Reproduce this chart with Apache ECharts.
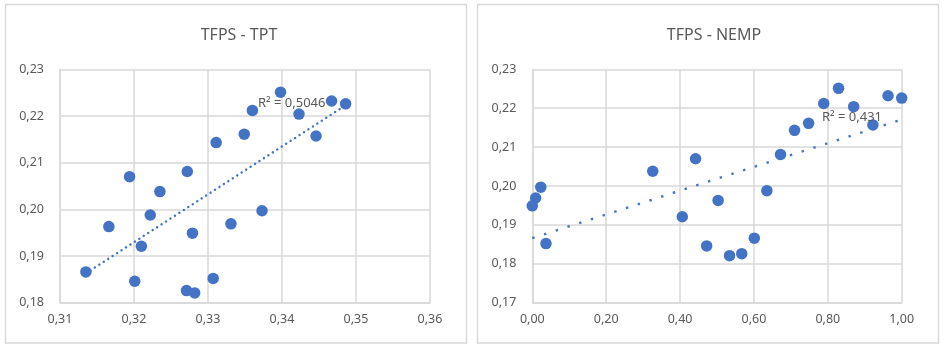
<!DOCTYPE html>
<html>
<head>
<meta charset="utf-8">
<script src="https://cdn.jsdelivr.net/npm/echarts@6/dist/echarts.min.js"></script>
<style>
html,body{margin:0;padding:0;background:#fff;}
#chart{width:947px;height:350px;}
</style>
</head>
<body>
<div id="chart"></div>
<script>
// TFPS values (y) shared by both charts
var tfps = [0.1866,0.1963,0.2070,0.1846,0.1921,0.1988,0.2038,0.2081,0.1826,0.1821,0.1949,0.2143,0.1852,0.1969,0.2161,0.2212,0.1997,0.2251,0.2204,0.2157,0.2232,0.2226];
// TPT values (x, left chart)
var tpt = [0.3135,0.3166,0.3194,0.3201,0.3210,0.3222,0.3235,0.3272,0.3271,0.3282,0.3279,0.3311,0.3307,0.3331,0.3349,0.3360,0.3373,0.3398,0.3423,0.3446,0.3467,0.3486];
// NEMP values (x, right chart)
var nemp = [0.601,0.503,0.442,0.472,0.406,0.635,0.326,0.672,0.567,0.534,0.000,0.710,0.037,0.009,0.748,0.789,0.023,0.829,0.870,0.922,0.963,1.000];
// Trendline endpoints
var trendTPT = [[0.3135,0.1863],[0.3486,0.2223]];
var trendNEMP = [[0.0,0.1866],[1.0,0.2171]];
var titles = ['TFPS - TPT','TFPS - NEMP'];
var r2Labels = ['R\u00b2 = 0,5046','R\u00b2 = 0,431'];

var textColor = '#595959';
var gridColor = '#d9d9d9';
var blue = '#4472C4';
var fontFam = '"Noto Sans", sans-serif';

function pairs(xs, ys){ return xs.map(function(x,i){return [x, ys[i]];}); }
function fmt(v){ return v.toFixed(2).replace('.', ','); }

function xAxis(idx, min, max, interval){
  return {type:'value', gridIndex:idx, min:min, max:max, interval:interval,
    axisLine:{show:true, lineStyle:{color:gridColor, width:1.5}},
    axisTick:{show:false},
    splitLine:{show:true, lineStyle:{color:gridColor, width:1.5}},
    axisLabel:{color:textColor, fontSize:12.5, fontFamily:fontFam, margin:10, formatter:fmt}};
}
function yAxis(idx, min, max, interval){
  return {type:'value', gridIndex:idx, min:min, max:max, interval:interval,
    axisLine:{show:true, lineStyle:{color:gridColor, width:1.5}},
    axisTick:{show:false},
    splitLine:{show:true, lineStyle:{color:gridColor, width:1.5}},
    axisLabel:{color:textColor, fontSize:12.5, fontFamily:fontFam, margin:16, formatter:fmt}};
}

var chart = echarts.init(document.getElementById('chart'), null, {renderer:'canvas'});
chart.setOption({
  animation:false,
  backgroundColor:'#fff',
  title:[
    {text:titles[0], left:234, top:22, textAlign:'center', textStyle:{color:textColor, fontSize:16, fontWeight:'normal', fontFamily:fontFam}},
    {text:titles[1], left:709, top:22, textAlign:'center', textStyle:{color:textColor, fontSize:16, fontWeight:'normal', fontFamily:fontFam}}
  ],
  grid:[
    {left:60, top:69.3, width:370, height:233.4},
    {left:532.3, top:69.3, width:369.4, height:233.4}
  ],
  xAxis:[ xAxis(0, 0.31, 0.36, 0.01), xAxis(1, 0, 1, 0.2) ],
  yAxis:[ yAxis(0, 0.18, 0.23, 0.01), yAxis(1, 0.17, 0.23, 0.01) ],
  graphic:[
    {type:'rect', shape:{x:5.5, y:4.5, width:461, height:338.5}, style:{fill:'none', stroke:gridColor, lineWidth:1.5}, silent:true},
    {type:'rect', shape:{x:477.5, y:4.5, width:461, height:338.5}, style:{fill:'none', stroke:gridColor, lineWidth:1.5}, silent:true},
    {type:'text', x:258, y:97, z:10, style:{text:r2Labels[0], fill:textColor, fontSize:13, fontFamily:fontFam}},
    {type:'text', x:822, y:111, z:10, style:{text:r2Labels[1], fill:textColor, fontSize:13, fontFamily:fontFam}}
  ],
  series:[
    {type:'scatter', xAxisIndex:0, yAxisIndex:0, data:pairs(tpt, tfps), symbolSize:11.5, itemStyle:{color:blue, opacity:1}, z:3},
    {type:'line', xAxisIndex:0, yAxisIndex:0, data:trendTPT, showSymbol:false, symbol:'none', z:2,
      lineStyle:{color:blue, width:2.4, type:[0.1,5.2], cap:'round'}},
    {type:'scatter', xAxisIndex:1, yAxisIndex:1, data:pairs(nemp, tfps), symbolSize:11.5, itemStyle:{color:blue, opacity:1}, z:3},
    {type:'line', xAxisIndex:1, yAxisIndex:1, data:trendNEMP, showSymbol:false, symbol:'none', z:2,
      lineStyle:{color:blue, width:2.4, type:[2.4,9.9], cap:'butt'}}
  ]
});
</script>
</body>
</html>
